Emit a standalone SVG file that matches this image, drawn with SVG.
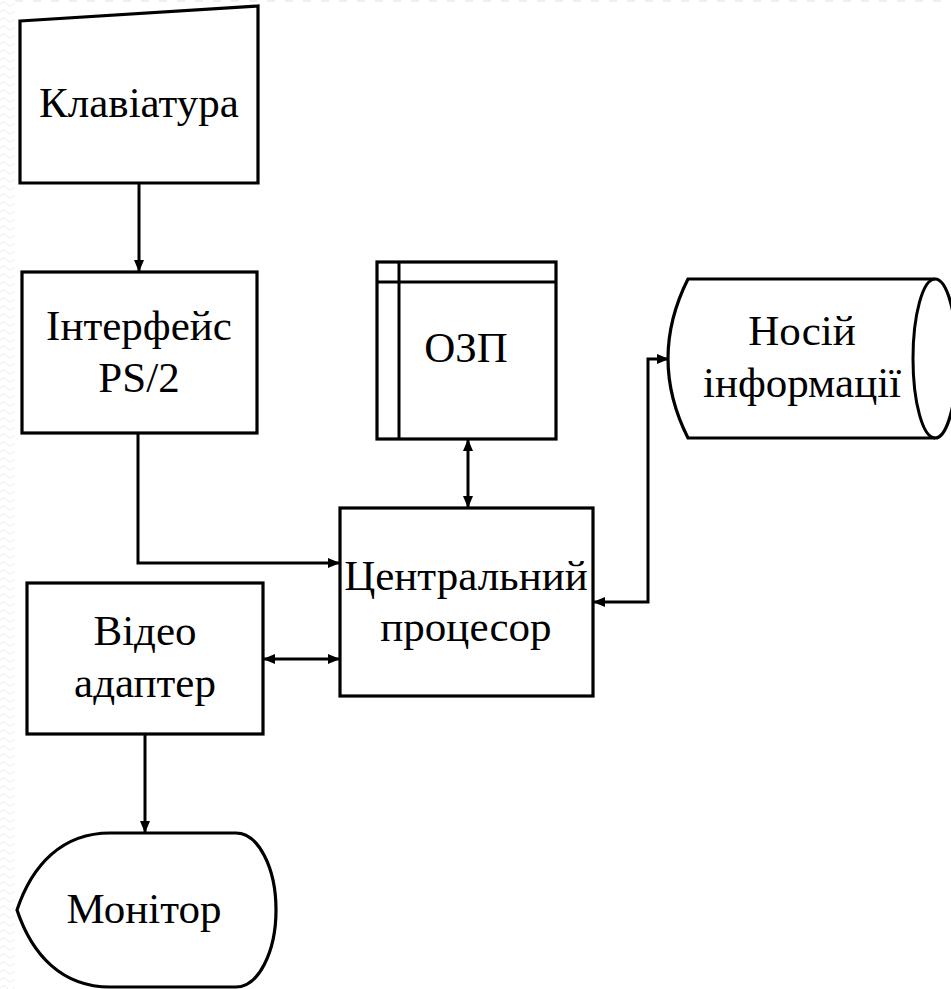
<svg xmlns="http://www.w3.org/2000/svg" width="951" height="989" viewBox="0 0 951 989">
<style>
.shape{fill:#fff;stroke:#000;stroke-width:3.2;stroke-linejoin:miter}
.line{fill:none;stroke:#000;stroke-width:3}
text{font-family:'Liberation Serif',Tinos,'Times New Roman','DejaVu Serif','Noto Serif',serif;font-size:43px;fill:#000;text-anchor:middle}
</style>
<defs>
<marker id="arr" viewBox="0 0 12 10" refX="11" refY="5" markerWidth="12" markerHeight="10" markerUnits="userSpaceOnUse" orient="auto-start-reverse">
<path d="M0,0 L12,5 L0,10 Z" fill="#000"/>
</marker>
<pattern id="wave" width="14" height="8" patternUnits="userSpaceOnUse">
<path d="M0,4 Q3.5,0 7,4 T14,4" fill="none" stroke="#ececec" stroke-width="1"/>
</pattern>
</defs>
<rect width="951" height="989" fill="#fff"/>
<rect x="0" y="0" width="15" height="989" fill="url(#wave)"/>
<line x1="15" y1="1" x2="951" y2="1" stroke="#efefef" stroke-width="2" stroke-dasharray="8,10"/>

<g id="connectors">
<path class="line" d="M139,183 L139,271" marker-end="url(#arr)"/>
<path class="line" d="M138,433 L138,563 L339,563" marker-end="url(#arr)"/>
<path class="line" d="M468,440 L468,507" marker-start="url(#arr)" marker-end="url(#arr)"/>
<path class="line" d="M264,659 L339,659" marker-start="url(#arr)" marker-end="url(#arr)"/>
<path class="line" d="M594,602 L648,602 L648,359 L668,359" marker-start="url(#arr)" marker-end="url(#arr)"/>
<path class="line" d="M145,734 L145,832" marker-end="url(#arr)"/>
</g>

<g id="keyboard">
<path class="shape" d="M20,21 L258,6 L258,183 L20,183 Z"/>
<text x="139" y="117">Клавіатура</text>
</g>

<g id="interface">
<rect class="shape" x="22" y="272" width="235" height="161"/>
<text x="139" y="340">Інтерфейс</text>
<text x="139" y="392">PS/2</text>
</g>

<g id="ram">
<rect class="shape" x="377" y="262" width="179" height="177"/>
<line class="line" x1="399" y1="262" x2="399" y2="439"/>
<line class="line" x1="377" y1="282" x2="556" y2="282"/>
<text x="466" y="362">ОЗП</text>
</g>

<g id="storage">
<path class="shape" d="M688,279 L935,279 A22,79.5 0 0 1 935,438 L688,438 Q648,358.5 688,279 Z"/>
<path class="line" d="M935,279 A22,79.5 0 0 0 935,438" stroke-width="3.2"/>
<text x="802" y="345">Носій</text>
<text x="802" y="397">інформації</text>
</g>

<g id="cpu">
<rect class="shape" x="340" y="508" width="253" height="188"/>
<text x="466" y="590">Центральний</text>
<text x="466" y="641">процесор</text>
</g>

<g id="video">
<rect class="shape" x="27" y="583" width="236" height="151"/>
<text x="145" y="645">Відео</text>
<text x="145" y="697">адаптер</text>
</g>

<g id="monitor">
<path class="shape" d="M110,833 L236,833 A40,77 0 0 1 236,987 L110,987 C62,987 32,955 17,910 C32,865 62,833 110,833 Z"/>
<text x="144" y="923">Монітор</text>
</g>
</svg>
